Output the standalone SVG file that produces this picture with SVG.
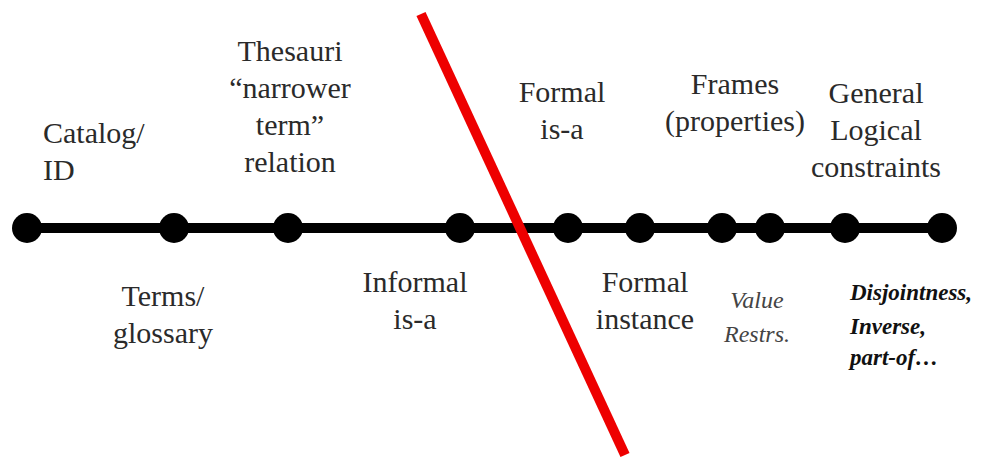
<svg xmlns="http://www.w3.org/2000/svg" width="1002" height="459" viewBox="0 0 1002 459">
<style>
text{font-family:'Liberation Serif','Times New Roman','DejaVu Serif',serif}
.t{font-size:30px;fill:#2a2a2a;text-anchor:middle}
.s{font-size:24px;fill:#444;font-style:italic;text-anchor:middle}
.b{font-size:23px;fill:#111;font-style:italic;font-weight:bold}
.d{fill:#000}
</style>
<rect width="1002" height="459" fill="#fff"/>
<g id="connectors">
<line x1="27" y1="228" x2="942" y2="228" stroke="#000" stroke-width="10"/>
</g>
<g id="n1"><circle class="d" cx="27" cy="228" r="15"/><text class="t" x="43" y="143" style="text-anchor:start">Catalog/</text><text class="t" x="43" y="180" style="text-anchor:start">ID</text></g>
<g id="n2"><circle class="d" cx="174" cy="228" r="15"/><text class="t" x="163" y="306">Terms/</text><text class="t" x="163" y="343">glossary</text></g>
<g id="n3"><circle class="d" cx="288" cy="228" r="15"/><text class="t" x="290" y="61">Thesauri</text><text class="t" x="290" y="98">“narrower</text><text class="t" x="290" y="135">term”</text><text class="t" x="290" y="172">relation</text></g>
<g id="n4"><circle class="d" cx="460" cy="228" r="15"/><text class="t" x="415" y="292">Informal</text><text class="t" x="415" y="329">is-a</text></g>
<g id="n5"><circle class="d" cx="568" cy="228" r="15"/><text class="t" x="562" y="102">Formal</text><text class="t" x="562" y="139">is-a</text></g>
<g id="n6"><circle class="d" cx="640" cy="228" r="15"/><text class="t" x="645" y="292">Formal</text><text class="t" x="645" y="329">instance</text></g>
<g id="n7"><circle class="d" cx="722" cy="228" r="15"/><text class="t" x="735" y="94">Frames</text><text class="t" x="735" y="131">(properties)</text></g>
<g id="n8"><circle class="d" cx="770" cy="228" r="15"/><text class="s" x="757" y="308">Value</text><text class="s" x="757" y="342">Restrs.</text></g>
<g id="n9"><circle class="d" cx="845" cy="228" r="15"/><text class="t" x="876" y="103">General</text><text class="t" x="876" y="140">Logical</text><text class="t" x="876" y="177">constraints</text></g>
<g id="n10"><circle class="d" cx="942" cy="228" r="15"/><text class="b" x="850" y="300">Disjointness,</text><text class="b" x="850" y="334">Inverse,</text><text class="b" x="850" y="365">part-of…</text></g>
<line x1="421" y1="14" x2="625" y2="455" stroke="#e00" stroke-width="10"/>
</svg>
